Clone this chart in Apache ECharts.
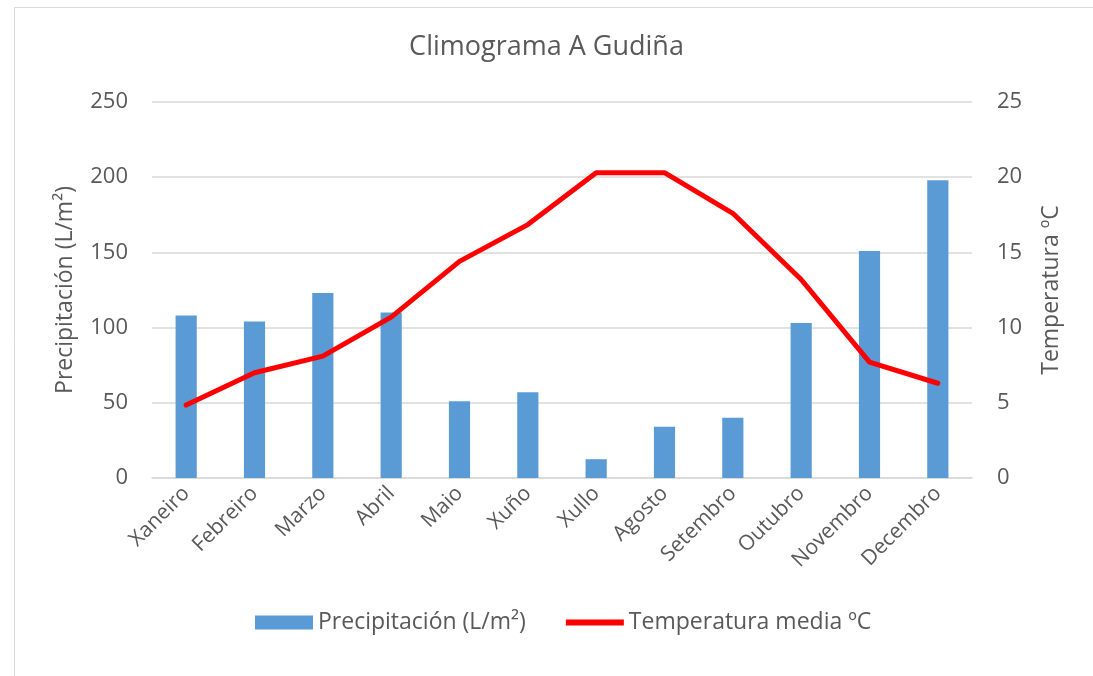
<!DOCTYPE html>
<html>
<head>
<meta charset="utf-8">
<script src="https://cdn.jsdelivr.net/npm/echarts@6/dist/echarts.min.js"></script>
<style>html,body{margin:0;padding:0;background:#fff;}#c{width:1093px;height:676px;}</style>
</head>
<body>
<div id="c"></div>
<script>
const months = ['Xaneiro','Febreiro','Marzo','Abril','Maio','Xuño','Xullo','Agosto','Setembro','Outubro','Novembro','Decembro'];
const precipitation = [108, 104, 123, 110, 51, 57, 12.5, 34, 40, 103, 151, 198];
const temperature = [4.85, 7.0, 8.1, 10.7, 14.4, 16.85, 20.3, 20.3, 17.6, 13.2, 7.7, 6.3];
const leftTicks = [0, 250, 50];
const rightTicks = [0, 25, 5];

const FONT = '"Open Sans", "Noto Sans", sans-serif';
const GREY = '#595959';
const chart = echarts.init(document.getElementById('c'), null, {renderer: 'canvas'});
chart.setOption({
  animation: false,
  backgroundColor: '#ffffff',
  graphic: [{
    type: 'rect', left: 12, top: 5,
    shape: {width: 1100, height: 700},
    style: {fill: 'none', stroke: '#d9d9d9', lineWidth: 1}
  }],
  title: {
    text: 'Climograma A Gudiña', left: 'center', top: 29,
    textStyle: {fontFamily: FONT, fontSize: 27, fontWeight: 'normal', color: GREY}
  },
  legend: {
    top: 606, left: 250, itemGap: 40, itemWidth: 58, itemHeight: 14,
    textStyle: {fontFamily: FONT, fontSize: 23, color: GREY},
    data: [
      {name: 'Precipitación (L/m²)', icon: 'rect'},
      {name: 'Temperatura media ºC', icon: 'path://M0,4 L20,4 L20,6 L0,6 Z'}
    ]
  },
  grid: {left: 152, right: 121, top: 102, bottom: 198},
  xAxis: {
    type: 'category', data: months,
    axisLine: {lineStyle: {color: '#d9d9d9', width: 1.5}},
    axisTick: {show: false},
    axisLabel: {rotate: 45, fontFamily: FONT, fontSize: 21, color: GREY, margin: 12, interval: 0}
  },
  yAxis: [{
    type: 'value', min: leftTicks[0], max: leftTicks[1], interval: leftTicks[2],
    name: 'Precipitación (L/m²)', nameLocation: 'middle', nameGap: 75, nameRotate: 90,
    nameTextStyle: {fontFamily: FONT, fontSize: 23, color: GREY},
    axisLine: {show: false}, axisTick: {show: false},
    axisLabel: {fontFamily: FONT, fontSize: 22, color: GREY, margin: 24},
    splitLine: {lineStyle: {color: '#d9d9d9', width: 1.5}}
  }, {
    type: 'value', min: rightTicks[0], max: rightTicks[1], interval: rightTicks[2],
    name: 'Temperatura ºC', nameLocation: 'middle', nameGap: 68, nameRotate: 90,
    nameTextStyle: {fontFamily: FONT, fontSize: 23, color: GREY},
    axisLine: {show: false}, axisTick: {show: false},
    axisLabel: {fontFamily: FONT, fontSize: 22, color: GREY, margin: 25},
    splitLine: {show: false}
  }],
  series: [{
    name: 'Precipitación (L/m²)', type: 'bar', data: precipitation,
    barWidth: '31%', itemStyle: {color: '#5B9BD5'}, yAxisIndex: 0
  }, {
    name: 'Temperatura media ºC', type: 'line', data: temperature, yAxisIndex: 1,
    symbol: 'none', lineStyle: {color: '#FF0000', width: 5, cap: 'round', join: 'round'},
    itemStyle: {color: '#FF0000'}
  }]
});
</script>
</body>
</html>
